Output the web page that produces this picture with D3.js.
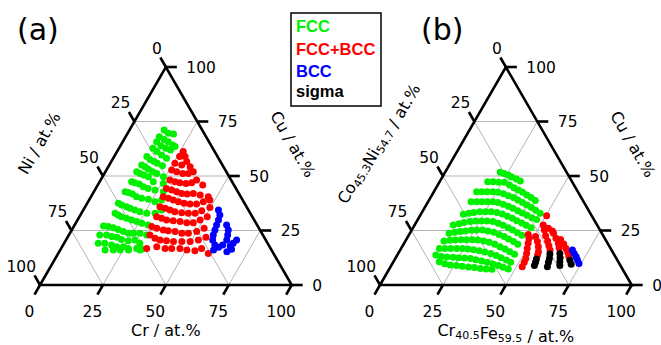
<!DOCTYPE html>
<html>
<head>
<meta charset="utf-8">
<script src="https://cdn.jsdelivr.net/npm/d3@7"></script>
<style>
  body { margin: 0; background: #fff; }
  svg { display: block; }
</style>
</head>
<body>
<div id="chart"></div>
<script>
// points are [x, Cu] in at.%, x = Cr for (a) and Cr40.5Fe59.5 for (b);
// the rest up to 100 is Ni (a) or Co45.3Ni54.7 (b)
const aFCC = [
  [13.8,71.1],[16.2,69.6],[18.4,69.3],
  [13.4,68.0],[15.9,66.8],[18.1,65.7],[20.6,64.2],
  [13.5,65.7],[16.1,63.9],[18.6,62.7],[20.9,61.9],[21.9,63.5],
  [13.5,62.7],[15.8,61.2],[18.5,59.6],[21.2,58.1],
  [13.0,58.9],[14.9,57.6],[17.0,56.6],[18.7,55.8],[21.3,54.7],
  [12.9,55.0],[14.6,54.3],[16.5,53.1],[18.8,52.0],[20.8,51.2],[24.2,49.7],
  [12.4,52.0],[14.1,51.2],[15.9,50.5],[18.2,49.7],[21.3,47.4],[25.7,46.6],
  [12.7,47.4],[14.2,46.9],[16.3,46.3],[18.5,45.1],[20.8,44.3],[23.9,43.6],[27.6,42.8],
  [12.4,42.8],[13.9,42.4],[15.9,41.7],[18.1,40.5],[20.5,39.8],[23.4,39.3],[26.6,38.2],[28.8,39.0],
  [12.4,37.5],[14.1,36.7],[16.4,35.9],[18.2,35.2],[20.5,34.4],[22.9,33.6],[26.0,32.9],[29.3,32.9],[31.1,34.4],
  [13.4,32.9],[15.0,32.1],[16.7,31.3],[19.1,30.6],[21.5,29.8],[23.9,29.1],[26.3,28.3],[29.2,27.5],
  [11.7,27.1],[13.7,26.8],[16.0,26.3],[18.3,25.5],[20.9,24.5],[23.3,23.7],[25.3,23.7],[27.9,23.7],[30.9,22.9],
  [12.3,22.9],[15.0,22.9],[17.4,22.2],[19.6,21.9],[21.9,20.9],[24.9,20.3],[27.4,20.6],[30.1,19.1],
  [13.6,19.1],[16.2,19.1],[19.3,18.3],[21.7,17.6],[24.3,17.6],[26.7,16.8],[30.0,16.8],[32.2,16.4],
  [17.8,16.1],[21.1,16.1],[23.8,16.1],[27.1,16.1],[31.7,16.1]
];
const aFCCBCC = [
  [26.3,61.2],[26.0,58.9],[28.2,58.9],
  [25.7,55.8],[28.8,55.0],[30.0,56.6],[32.5,54.3],
  [25.9,52.8],[28.3,52.0],[31.1,51.2],[33.3,51.2],[34.9,52.0],
  [27.5,48.2],[29.9,47.4],[32.1,46.9],[34.7,46.6],[36.8,46.9],[38.1,48.2],[41.7,45.9],
  [28.1,44.3],[30.5,43.6],[32.9,42.8],[35.3,42.0],[37.6,41.7],[39.9,42.0],[43.0,41.3],[46.6,40.5],
  [28.7,40.5],[31.1,39.8],[33.5,39.0],[35.9,38.2],[38.5,37.5],[41.0,37.2],[43.6,37.2],[45.8,38.2],[48.0,39.0],
  [29.7,35.9],[32.1,35.2],[34.4,34.4],[36.8,33.6],[39.7,33.2],[42.5,32.9],[45.2,32.9],[47.2,34.1],[49.7,35.6],
  [30.7,31.3],[33.0,30.6],[35.4,29.8],[38.2,29.5],[41.1,29.1],[44.0,28.6],[46.6,28.6],[48.7,29.8],[50.8,31.3],
  [31.0,26.8],[33.4,26.0],[36.4,25.2],[38.5,24.9],[41.4,24.5],[44.5,23.7],[47.1,23.7],[50.0,24.5],[52.2,26.0],
  [32.2,22.9],[35.0,21.4],[37.4,20.6],[40.1,20.3],[43.1,19.9],[46.4,19.9],[49.7,19.9],[52.6,20.6],[55.0,21.9],
  [34.0,16.8],[37.6,17.6],[41.3,16.8],[43.9,16.8],[47.2,16.8],[50.3,16.1],[53.7,15.7],[55.8,16.8],[59.6,14.5]
];
const aBCC = [
  [53.7,34.4],[55.4,32.1],[56.0,29.8],[56.4,27.5],[56.9,25.2],[57.4,22.9],[58.3,20.6],
  [60.3,18.3],[60.9,16.1],[62.3,17.3],[63.4,18.3],
  [60.4,27.5],[62.2,25.2],[63.1,22.9],[63.9,20.6],[66.6,17.9],[67.2,19.1],[67.8,20.6],
  [67.9,16.4],[66.6,15.3]
];

const bFCC = [
  [21.9,51.7],[23.7,51.2],[25.7,50.5],[27.6,49.5],[29.9,48.6],[31.9,47.7],
  [19.1,47.4],[21.2,47.4],[23.6,47.1],[25.8,47.1],[28.5,45.9],[30.9,44.6],[33.2,43.6],[35.4,42.5],[37.7,41.3],[40.0,40.1],[42.3,38.8],
  [17.0,42.8],[19.1,42.8],[21.2,42.8],[23.4,42.8],[25.6,42.5],[28.1,41.9],[30.5,41.0],[33.0,40.1],[35.3,39.0],[37.7,37.9],[40.1,36.7],[42.4,35.5],[44.7,34.3],[47.2,32.9],
  [17.1,38.2],[19.3,38.2],[21.4,38.2],[23.5,38.2],[25.7,38.2],[27.9,37.9],[30.4,37.0],[32.9,36.1],[35.2,35.2],[37.7,34.1],[40.0,33.0],[42.4,32.0],[44.9,30.9],[47.2,30.0],
  [16.9,32.4],[18.8,32.9],[20.6,33.3],[22.9,33.6],[25.2,33.6],[27.4,33.6],[29.8,33.3],[32.3,32.6],[34.9,31.5],[37.3,30.6],[39.6,29.5],[42.1,28.4],[44.4,27.4],[46.9,26.3],
  [15.3,27.5],[17.3,28.1],[19.1,28.7],[21.3,29.1],[23.3,29.4],[25.6,29.4],[27.8,29.4],[30.3,29.1],[32.8,28.3],[35.2,27.4],[37.8,26.3],[40.1,25.2],[42.6,24.0],[45.0,22.8],
  [15.6,23.7],[17.6,24.2],[19.6,24.5],[21.5,24.8],[23.7,25.1],[25.8,25.2],[28.1,25.2],[30.5,24.8],[33.1,24.2],[35.7,23.2],[38.2,22.2],[40.5,21.1],[43.1,19.9],[45.4,18.7],
  [15.3,20.2],[17.5,20.5],[19.6,20.6],[21.8,20.8],[24.0,20.8],[26.3,20.8],[28.6,20.6],[31.1,20.2],[33.6,19.6],[36.3,18.7],[38.9,17.6],[41.4,16.5],[43.9,15.3],[46.4,14.1],
  [15.2,16.8],[17.4,16.8],[19.7,16.8],[22.1,16.8],[24.4,16.7],[26.7,16.5],[29.1,16.2],[31.6,15.7],[34.1,15.1],[36.8,14.4],[39.4,13.5],[41.8,12.5],[44.4,11.5],[46.7,10.4],
  [15.3,13.8],[17.8,13.1],[20.2,12.8],[22.7,12.7],[25.0,12.5],[27.4,12.4],[29.9,12.1],[32.3,11.6],[34.9,11.0],[37.4,10.4],[40.1,9.6],[42.6,8.9],[44.9,8.1],[47.3,7.3],
  [18.2,10.7],[20.8,9.8],[23.3,9.2],[25.9,8.9],[28.4,8.6],[31.0,8.3],[33.5,8.0],[36.1,7.6],[38.5,7.3],[40.9,7.2]
];
const bFCCBCC = [
  [50.3,31.8],[51.1,27.5],[53.9,26.0],[56.1,24.8],
  [47.3,23.2],[48.5,21.4],[49.3,19.1],[50.1,16.8],[51.0,14.5],[51.8,12.2],[52.1,10.4],[52.3,8.4],
  [50.7,22.2],[52.6,19.9],[54.1,17.6],[55.3,15.3],[55.7,13.8],
  [52.7,25.2],[54.5,22.6],[56.5,20.2],[58.1,18.0],[59.5,16.1],
  [57.1,23.7],[59.2,21.4],[61.3,19.1],[62.6,17.1],
  [61.3,20.9],[63.6,18.8],[65.5,16.8],[67.1,15.0],[68.5,13.1]
];
const bSigma = [
  [56.2,11.9],[56.6,10.4],[56.9,8.9],
  [60.4,14.2],[61.2,12.2],[61.7,10.4],[62.3,8.4],
  [64.2,14.5],[65.3,12.5],[66.1,10.7],[67.0,8.9],
  [69.8,11.3],[71.2,9.5]
];
const bBCC = [
  [68.4,16.1],[69.9,14.5],[71.4,13.0],[72.7,11.5],[74.1,9.9]
];

const tickValues = [0, 25, 50, 75, 100];
const gridValues = [25, 50, 75];
const phaseNames = ['FCC', 'FCC+BCC', 'BCC', 'sigma'];
const phaseColors = ['#00f000', '#ff0000', '#0000ff', '#000000'];

const width = 661, height = 345;
const side = 251.7;
const tall = side * Math.sqrt(3) / 2;
const tickLen = 11;
const c60 = 0.5, s60 = Math.sqrt(3) / 2;

const svg = d3.select('#chart').append('svg')
  .attr('width', width)
  .attr('height', height)
  .style('font-family', 'DejaVu Sans, sans-serif');

const ternary = (ox, oy, cfg) => {
  const s = d3.scaleLinear().domain([0, 100]).range([0, side]);
  const h = d3.scaleLinear().domain([0, 100]).range([0, -tall]);
  const px = (a, c) => s(a + c / 2);
  const py = c => h(c);

  const g = svg.append('g').attr('transform', `translate(${ox},${oy})`);

  // grid lines
  const gridSegs = [];
  gridValues.forEach(v => {
    gridSegs.push([[0, v], [100 - v, v]]);        // Cu const
    gridSegs.push([[v, 0], [v, 100 - v]]);        // x const
    gridSegs.push([[0, 100 - v], [100 - v, 0]]);  // rest const
  });
  g.selectAll('line.grid')
    .data(gridSegs)
    .enter()
    .append('line')
    .attr('class', 'grid')
    .attr('x1', d => px(d[0][0], d[0][1]))
    .attr('y1', d => py(d[0][1]))
    .attr('x2', d => px(d[1][0], d[1][1]))
    .attr('y2', d => py(d[1][1]))
    .attr('stroke', '#b4b4b4')
    .attr('stroke-width', 1);

  // frame
  g.append('path')
    .attr('d', `M${px(0, 0)},${py(0)}L${px(100, 0)},${py(0)}L${px(0, 100)},${py(100)}Z`)
    .attr('fill', 'none')
    .attr('stroke', '#000')
    .attr('stroke-width', 2.6)
    .attr('stroke-linejoin', 'miter');

  // bottom axis
  const bottom = g.append('g');
  bottom.selectAll('line')
    .data(tickValues).enter().append('line')
    .attr('x1', d => px(d, 0)).attr('y1', py(0))
    .attr('x2', d => px(d, 0) - c60 * tickLen).attr('y2', py(0) + s60 * tickLen)
    .attr('stroke', '#000').attr('stroke-width', 2.6);
  bottom.selectAll('text')
    .data(tickValues).enter().append('text')
    .attr('x', d => px(d, 0) - 10.5).attr('y', 32)
    .attr('text-anchor', 'middle')
    .style('font-size', '15.5px')
    .text(d => d);

  // right axis (Cu)
  const right = g.append('g');
  right.selectAll('line')
    .data(tickValues).enter().append('line')
    .attr('x1', d => px(100 - d, d)).attr('y1', d => py(d))
    .attr('x2', d => px(100 - d, d) + tickLen).attr('y2', d => py(d))
    .attr('stroke', '#000').attr('stroke-width', 2.6);
  right.selectAll('text')
    .data(tickValues).enter().append('text')
    .attr('x', d => px(100 - d, d) + 20.5).attr('y', d => py(d) + 5.6)
    .style('font-size', '15.5px')
    .text(d => d);

  // left axis (remainder)
  const left = g.append('g');
  left.selectAll('line')
    .data(tickValues).enter().append('line')
    .attr('x1', d => px(0, 100 - d)).attr('y1', d => py(100 - d))
    .attr('x2', d => px(0, 100 - d) - c60 * tickLen).attr('y2', d => py(100 - d) - s60 * tickLen)
    .attr('stroke', '#000').attr('stroke-width', 2.6);
  left.selectAll('text')
    .data(tickValues).enter().append('text')
    .attr('x', d => px(0, 100 - d) - 4).attr('y', d => py(100 - d) - 13.5)
    .attr('text-anchor', 'end')
    .style('font-size', '15.5px')
    .text(d => d);

  // axis titles
  const addTitle = (x, y, rot, parts) => {
    const t = g.append('text')
      .attr('transform', `translate(${x},${y}) rotate(${rot})`)
      .attr('text-anchor', 'middle')
      .style('font-size', '16px');
    parts.forEach(p => {
      if (p.sub) {
        t.append('tspan').attr('dy', 3).style('font-size', '11px').text(p.sub);
        t.append('tspan').attr('dy', -3).text('');
      } else {
        t.append('tspan').text(p.text);
      }
    });
  };
  addTitle(px(50, 0), 50.5, 0, cfg.bottomTitle);
  addTitle(248, -138, 60, [{ text: 'Cu / at.%' }]);
  addTitle(cfg.leftPos[0], cfg.leftPos[1], -60, cfg.leftTitle);

  // points
  cfg.series.forEach(sr => {
    g.append('g').selectAll('circle')
      .data(sr.data).enter().append('circle')
      .attr('cx', d => px(d[0], d[1]))
      .attr('cy', d => py(d[1]))
      .attr('r', 3.5)
      .attr('fill', phaseColors[phaseNames.indexOf(sr.phase)]);
  });

  svg.append('text')
    .attr('x', ox + cfg.tag[0]).attr('y', cfg.tag[1])
    .style('font-size', '30px')
    .text(cfg.label);
};

ternary(40, 285, {
  label: '(a)', tag: [-23, 40],
  bottomTitle: [{ text: 'Cr / at.%' }],
  leftTitle: [{ text: 'Ni / at.%' }],
  leftPos: [4, -139],
  series: [
    { phase: 'FCC', data: aFCC },
    { phase: 'FCC+BCC', data: aFCCBCC },
    { phase: 'BCC', data: aBCC }
  ]
});

ternary(380, 285, {
  label: '(b)', tag: [41, 40],
  bottomTitle: [{ text: 'Cr' }, { sub: '40.5' }, { text: 'Fe' }, { sub: '59.5' }, { text: ' / at.%' }],
  leftTitle: [{ text: 'Co' }, { sub: '45.3' }, { text: 'Ni' }, { sub: '54.7' }, { text: ' / at.%' }],
  leftPos: [1, -140],
  series: [
    { phase: 'FCC', data: bFCC },
    { phase: 'FCC+BCC', data: bFCCBCC },
    { phase: 'sigma', data: bSigma },
    { phase: 'BCC', data: bBCC }
  ]
});

// legend
const legend = svg.append('g').attr('transform', 'translate(291,13)');
legend.append('rect')
  .attr('width', 90).attr('height', 93)
  .attr('fill', '#fff').attr('stroke', '#000').attr('stroke-width', 1.5);
legend.selectAll('text')
  .data(phaseNames).enter().append('text')
  .attr('x', 5)
  .attr('y', (d, i) => [19, 41.5, 63.5, 84][i])
  .attr('fill', (d, i) => phaseColors[i])
  .style('font-family', 'Liberation Sans, Arial, sans-serif')
  .style('font-weight', 'bold')
  .style('font-size', '16.5px')
  .text(d => d);
</script>
</body>
</html>
